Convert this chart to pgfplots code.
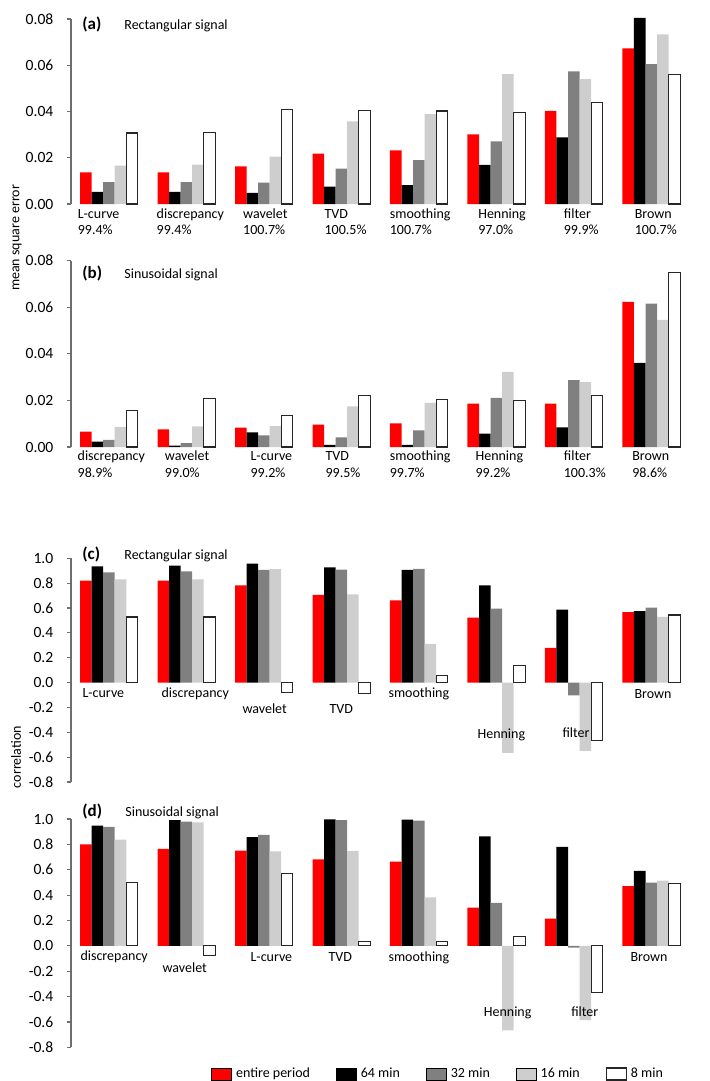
\documentclass[border=0pt]{standalone}
\usepackage{fontspec}
\setmainfont{Carlito}
\usepackage{pgfplots}
\usepackage{pgfplotstable}
\pgfplotsset{compat=1.18}
\definecolor{dgray}{RGB}{128,128,128}
\definecolor{lgray}{RGB}{206,206,206}
\definecolor{axgray}{RGB}{110,110,110}
\pgfplotsset{/pgfplots/ybar legend/.style={/pgfplots/legend image code/.code={\draw[##1] (0pt,-3pt) rectangle (10pt,3pt);}}}
\pgfplotsset{
  base/.style={
    scale only axis, width=309.5pt, xmin=-0.49, xmax=7.5,
    axis x line=none, axis y line*=left, xtick=\empty,
    ybar, bar width=0.149, clip=false,
    scaled y ticks=false,
    tick align=outside, major tick length=2pt,
    y axis line style={axgray, line width=0.6pt},
    ytick style={axgray, line width=0.6pt},
    yticklabel style={font=\fontsize{7.8}{9}\selectfont, xshift=-3.3pt},
    anchor=north west,
  },
  mse/.style={base, ymin=0, ymax=0.08, ytick={0,0.02,0.04,0.06,0.08},
    yticklabels={0.00,0.02,0.04,0.06,0.08}},
  cor/.style={base, ymin=-0.8, ymax=1.0, ytick={-0.8,-0.6,-0.4,-0.2,0,0.2,0.4,0.6,0.8,1.0},
    yticklabels={-0.8,-0.6,-0.4,-0.2,0.0,0.2,0.4,0.6,0.8,1.0}},
  s0/.style={fill=red, draw=none, bar shift=-0.298},
  s1/.style={fill=black, draw=none, bar shift=-0.149},
  s2/.style={fill=dgray, draw=none, bar shift=0},
  s3/.style={fill=lgray, draw=none, bar shift=0.149},
  s4/.style={fill=white, draw=black!85, line width=0.55pt, bar shift=0.298},
}
\tikzset{lab/.style={anchor=base west, inner sep=0pt, font=\fontsize{7}{8.4}\selectfont},
  ttl/.style={anchor=base west, inner sep=0pt, font=\fontsize{7}{8.4}\selectfont},
  pl/.style={anchor=base west, inner sep=0pt, font=\fontsize{8.5}{10}\selectfont\bfseries}}

\pgfplotstableread{
x ep m64 m32 m16 m8
0 0.0137 0.0053 0.0095 0.0166 0.0307
1 0.0137 0.0053 0.0095 0.0170 0.0310
2 0.0163 0.0048 0.0092 0.0205 0.0409
3 0.0218 0.0075 0.0153 0.0357 0.0405
4 0.0232 0.0082 0.0190 0.0389 0.0402
5 0.0301 0.0169 0.0271 0.0562 0.0395
6 0.0403 0.0288 0.0573 0.0540 0.0437
7 0.0673 0.0805 0.0605 0.0733 0.0559
}\mseRect
\pgfplotstableread{
x ep m64 m32 m16 m8
0 0.0066 0.0023 0.0031 0.0086 0.0156
1 0.0076 0.0006 0.0017 0.0089 0.0209
2 0.0083 0.0063 0.0050 0.0090 0.0137
3 0.0096 0.0009 0.0041 0.0174 0.0220
4 0.0101 0.0009 0.0071 0.0190 0.0204
5 0.0186 0.0057 0.0211 0.0323 0.0200
6 0.0186 0.0084 0.0287 0.0279 0.0220
7 0.0623 0.0361 0.0616 0.0546 0.0751
}\mseSin
\pgfplotstableread{
x ep m64 m32 m16 m8
0 0.820 0.936 0.887 0.831 0.528
1 0.820 0.941 0.895 0.831 0.528
2 0.783 0.957 0.906 0.912 -0.080
3 0.705 0.928 0.909 0.710 -0.088
4 0.662 0.906 0.914 0.311 0.059
5 0.523 0.783 0.595 -0.566 0.139
6 0.279 0.587 -0.102 -0.550 -0.469
7 0.566 0.574 0.603 0.528 0.544
}\corRect
\pgfplotstableread{
x ep m64 m32 m16 m8
0 0.800 0.948 0.937 0.837 0.496
1 0.764 0.992 0.979 0.974 -0.073
2 0.751 0.858 0.874 0.745 0.567
3 0.682 0.997 0.992 0.748 0.037
4 0.664 0.995 0.987 0.383 0.037
5 0.302 0.864 0.339 -0.667 0.071
6 0.215 0.780 -0.015 -0.586 -0.371
7 0.470 0.591 0.499 0.514 0.493
}\corSin

\begin{document}
\begin{tikzpicture}
\useasboundingbox (0,0) rectangle (354.5pt,-540.5pt);

% (a)
\begin{axis}[mse, at={(35.5pt,-9.5pt)}, height=92.5pt]
\addplot[s0] table[x=x,y=ep]{\mseRect};
\addplot[s1] table[x=x,y=m64]{\mseRect};
\addplot[s2] table[x=x,y=m32]{\mseRect};
\addplot[s3] table[x=x,y=m16]{\mseRect};
\addplot[s4] table[x=x,y=m8]{\mseRect};
\node[lab] at (axis cs:-0.407,-0.0062) {L-curve};
\node[lab] at (axis cs:-0.407,-0.0131) {99.4\%};
\node[lab] at (axis cs:0.611,-0.0062) {discrepancy};
\node[lab] at (axis cs:0.611,-0.0131) {99.4\%};
\node[lab] at (axis cs:1.728,-0.0062) {wavelet};
\node[lab] at (axis cs:1.728,-0.0131) {100.7\%};
\node[lab] at (axis cs:2.778,-0.0062) {TVD};
\node[lab] at (axis cs:2.778,-0.0131) {100.5\%};
\node[lab] at (axis cs:3.621,-0.0062) {smoothing};
\node[lab] at (axis cs:3.621,-0.0131) {100.7\%};
\node[lab] at (axis cs:4.762,-0.0062) {Henning};
\node[lab] at (axis cs:4.762,-0.0131) {97.0\%};
\node[lab] at (axis cs:5.867,-0.0062) {filter};
\node[lab] at (axis cs:5.867,-0.0131) {99.9\%};
\node[lab] at (axis cs:6.783,-0.0062) {Brown};
\node[lab] at (axis cs:6.783,-0.0131) {100.7\%};
\end{axis}

% (b)
\begin{axis}[mse, at={(35.5pt,-130.35pt)}, height=93.15pt]
\addplot[s0] table[x=x,y=ep]{\mseSin};
\addplot[s1] table[x=x,y=m64]{\mseSin};
\addplot[s2] table[x=x,y=m32]{\mseSin};
\addplot[s3] table[x=x,y=m16]{\mseSin};
\addplot[s4] table[x=x,y=m8]{\mseSin};
\node[lab] at (axis cs:-0.409,-0.0059) {discrepancy};
\node[lab] at (axis cs:-0.409,-0.0130) {98.9\%};
\node[lab] at (axis cs:0.717,-0.0059) {wavelet};
\node[lab] at (axis cs:0.717,-0.0130) {99.0\%};
\node[lab] at (axis cs:1.823,-0.0059) {L-curve};
\node[lab] at (axis cs:1.823,-0.0130) {99.2\%};
\node[lab] at (axis cs:2.791,-0.0059) {TVD};
\node[lab] at (axis cs:2.791,-0.0130) {99.5\%};
\node[lab] at (axis cs:3.621,-0.0059) {smoothing};
\node[lab] at (axis cs:3.621,-0.0130) {99.7\%};
\node[lab] at (axis cs:4.727,-0.0059) {Henning};
\node[lab] at (axis cs:4.727,-0.0130) {99.2\%};
\node[lab] at (axis cs:5.867,-0.0059) {filter};
\node[lab] at (axis cs:5.867,-0.0130) {100.3\%};
\node[lab] at (axis cs:6.750,-0.0059) {Brown};
\node[lab] at (axis cs:6.750,-0.0130) {98.6\%};
\end{axis}

% (c)
\begin{axis}[cor, at={(35.5pt,-279.15pt)}, height=111.85pt]
\addplot[s0] table[x=x,y=ep]{\corRect};
\addplot[s1] table[x=x,y=m64]{\corRect};
\addplot[s2] table[x=x,y=m32]{\corRect};
\addplot[s3] table[x=x,y=m16]{\corRect};
\addplot[s4] table[x=x,y=m8]{\corRect};
\node[lab] at (axis cs:-0.346,-0.123) {L-curve};
\node[lab] at (axis cs:0.674,-0.123) {discrepancy};
\node[lab] at (axis cs:1.719,-0.247) {wavelet};
\node[lab] at (axis cs:2.842,-0.247) {TVD};
\node[lab] at (axis cs:3.604,-0.123) {smoothing};
\node[lab] at (axis cs:4.753,-0.453) {Henning};
\node[lab] at (axis cs:5.850,-0.440) {filter};
\node[lab] at (axis cs:6.779,-0.128) {Brown};
\end{axis}

% (d)
\begin{axis}[cor, at={(35.5pt,-409.5pt)}, height=114.15pt,
  legend columns=5,
  legend style={at={(0.226,-0.117)}, anchor=west, draw=none, fill=none, inner sep=0pt,
    font=\fontsize{7}{8.4}\selectfont, legend cell align=left,
    /tikz/every even column/.append style={column sep=11pt}}]
\addplot[s0] table[x=x,y=ep]{\corSin};
\addplot[s1] table[x=x,y=m64]{\corSin};
\addplot[s2] table[x=x,y=m32]{\corSin};
\addplot[s3] table[x=x,y=m16]{\corSin};
\addplot[s4] table[x=x,y=m8]{\corSin};
\legend{entire period, 64 min, 32 min, 16 min, 8 min}
\node[lab] at (axis cs:-0.372,-0.118) {discrepancy};
\node[lab] at (axis cs:0.687,-0.213) {wavelet};
\node[lab] at (axis cs:1.823,-0.120) {L-curve};
\node[lab] at (axis cs:2.830,-0.120) {TVD};
\node[lab] at (axis cs:3.604,-0.120) {smoothing};
\node[lab] at (axis cs:4.834,-0.560) {Henning};
\node[lab] at (axis cs:5.962,-0.554) {filter};
\node[lab] at (axis cs:6.728,-0.123) {Brown};
\end{axis}

% panel titles
\node[pl] at (41pt,-15pt) {(a)};
\node[ttl] at (62pt,-15pt) {Rectangular signal};
\node[pl] at (41pt,-139.15pt) {(b)};
\node[ttl] at (62pt,-139.15pt) {Sinusoidal signal};
\node[pl] at (41pt,-279.6pt) {(c)};
\node[ttl] at (62pt,-279.6pt) {Rectangular signal};
\node[pl] at (41pt,-408pt) {(d)};
\node[ttl] at (62.5pt,-408pt) {Sinusoidal signal};

% axis titles
\node[rotate=90, inner sep=0pt, font=\fontsize{7}{8.4}\selectfont] at (8.5pt,-119pt) {mean square error};
\node[rotate=90, inner sep=0pt, font=\fontsize{7}{8.4}\selectfont] at (8pt,-378.5pt) {correlation};
\end{tikzpicture}
\end{document}
